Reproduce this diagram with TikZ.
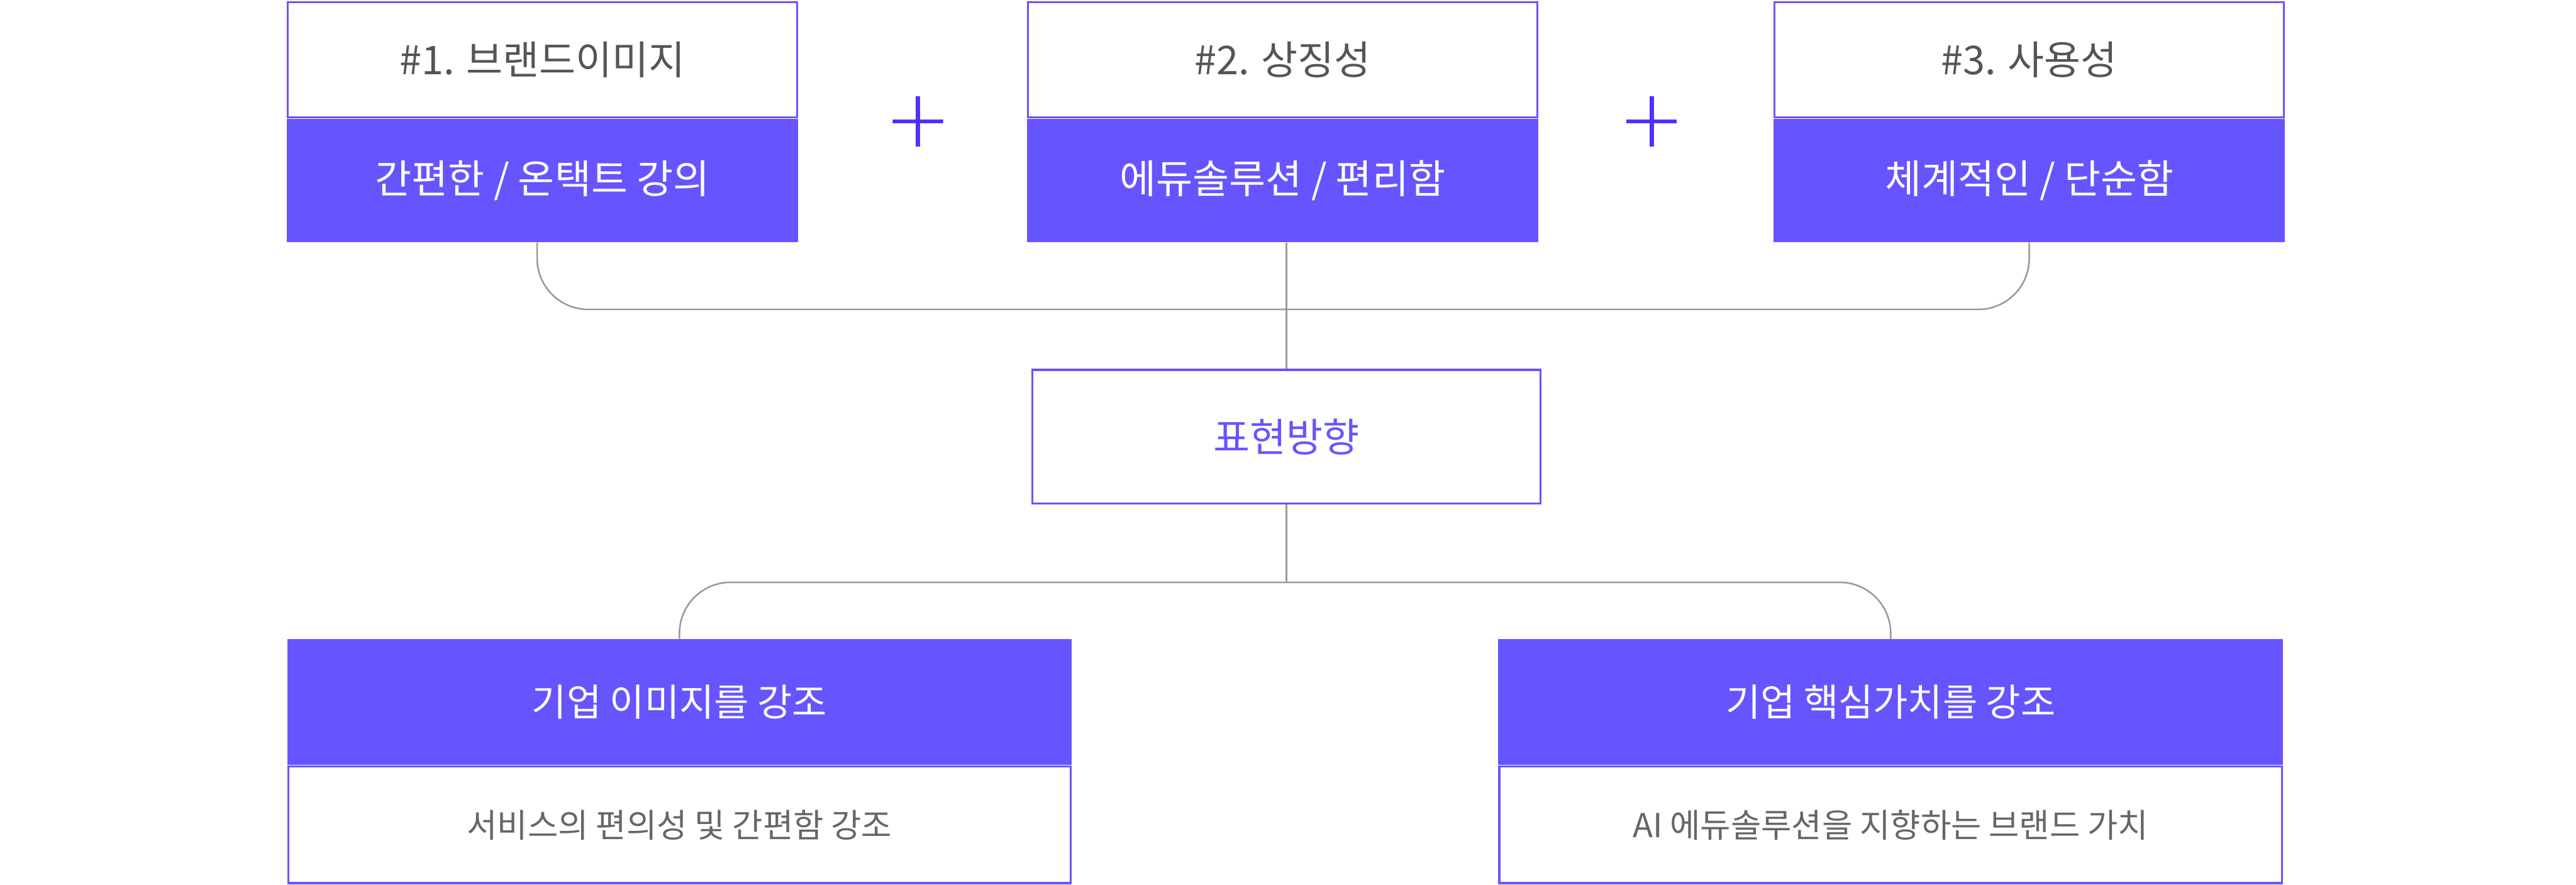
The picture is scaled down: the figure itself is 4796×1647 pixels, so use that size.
\documentclass[tikz,border=0pt]{standalone}
\usepackage{fontspec}
\setmainfont{Noto Sans CJK KR}
\usetikzlibrary{positioning}

\definecolor{brand}{HTML}{6655FF}
\definecolor{plusblue}{HTML}{5030FF}
\definecolor{linegray}{HTML}{9A9A9A}
\definecolor{titlegray}{HTML}{555555}
\definecolor{notegray}{HTML}{666666}

\tikzset{
    head node/.style={rectangle,draw=brand,fill=white,line width=0.04cm,inner sep=0,
        minimum width=9.48cm,minimum height=2.14cm,text=titlegray,font=\fontsize{21}{25}\selectfont},
    key node/.style={rectangle,fill=brand,inner sep=0,
        minimum width=9.52cm,minimum height=2.30cm,text=white,font=\fontsize{21}{25}\selectfont},
    hub node/.style={rectangle,draw=brand,fill=white,line width=0.04cm,inner sep=0,
        minimum width=9.46cm,minimum height=2.49cm,text=brand,font=\fontsize{21}{25}\selectfont},
    goal node/.style={rectangle,fill=brand,inner sep=0,
        minimum width=14.6cm,minimum height=2.34cm,text=white,font=\fontsize{20}{24}\selectfont},
    note node/.style={rectangle,draw=brand,fill=white,line width=0.04cm,inner sep=0,
        minimum width=14.56cm,minimum height=2.17cm,text=notegray,font=\fontsize{17.5}{21}\selectfont},
    plus node/.style={minimum size=0.94cm,inner sep=0,
        path picture={\draw[plusblue,line width=0.08cm]
            (path picture bounding box.north) -- (path picture bounding box.south)
            (path picture bounding box.west) -- (path picture bounding box.east);}},
    link/.style={draw=linegray,line width=0.03cm,rounded corners=0.95cm}
    }

\begin{document}
\begin{tikzpicture}[x=0.01cm,y=-0.01cm]
    \useasboundingbox (0,0) rectangle (4796,1647);

    % three keywords
    \node(t1)[head node] at (1010,111) {\#1. 브랜드이미지};
    \node(k1)[key node, below=0pt of t1] {간편한 / 온택트 강의};
    \node(t2)[head node] at (2388,111) {\#2. 상징성};
    \node(k2)[key node, below=0pt of t2] {에듀솔루션 / 편리함};
    \node(t3)[head node] at (3778,111) {\#3. 사용성};
    \node(k3)[key node, below=0pt of t3] {체계적인 / 단순함};

    \node(p1)[plus node] at (1709,226) {};
    \node(p2)[plus node] at (3075,226) {};

    % direction
    \node(hub)[hub node] at (2395,813) {표현방향};

    % two goals
    \node(g1)[goal node] at (1265,1307) {기업 이미지를 강조};
    \node(n1)[note node, below=0pt of g1] {서비스의 편의성 및 간편함 강조};
    \node(g2)[goal node] at (3520,1307) {기업 핵심가치를 강조};
    \node(n2)[note node, below=0pt of g2] {AI 에듀솔루션을 지향하는 브랜드 가치};

    \coordinate(j1) at (2395,576);
    \coordinate(j2) at (2395,1084);

    \draw[link] ([xshift=-0.1cm]k1.south) |- (j1) -| (k3.south);
    \draw[link] (k2.south -| hub.north) -- (hub.north);
    \draw[link] (hub.south) -- (j2);
    \draw[link] (g1.north) |- (j2) -| (g2.north);
\end{tikzpicture}
\end{document}
